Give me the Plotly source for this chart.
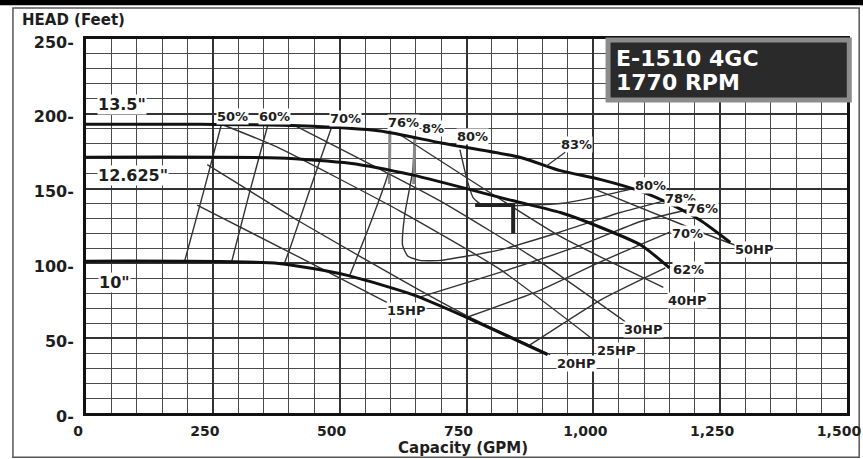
import plotly.graph_objects as go

# ---------------- data (GPM, feet) ----------------
# impeller curves
q_135 = [0, 225, 420, 580, 700, 855, 935, 1015, 1095, 1150, 1210, 1270]
h_135 = [193, 193, 192, 188.5, 180.5, 171, 162, 156, 148, 140, 129, 114]
q_12625 = [0, 380, 520, 645, 840, 935, 1015, 1095, 1150]
h_12625 = [171, 170.5, 167, 159, 142, 134, 124, 112, 97]
q_10 = [0, 380, 515, 645, 750, 910]
h_10 = [101.5, 100, 92, 79, 64, 39]

# efficiency lines
q_e50 = [267, 231, 194]
h_e50 = [193, 147, 101]
q_e60 = [358, 322, 287]
h_e60 = [192, 147, 101]
q_e70_l = [484, 441, 401, 391]
h_e70_l = [191, 149, 109, 100]
q_e70_r = [751, 895, 1014, 1152]
h_e70_r = [64, 82, 101, 121]
q_e76_l = [599, 597, 563, 520]
h_e76_l = [189, 162, 129, 92]
q_e76_r = [658, 816, 974, 1093, 1188]
h_e76_r = [77.5, 94, 112, 128, 136]
q_e78 = [648, 644, 628, 624, 634, 658, 698, 816, 935, 1053, 1142]
h_e78 = [184, 162, 132, 112, 105, 102, 102, 109, 121, 134, 142]
q_e80 = [737, 751, 763, 781, 935, 1014, 1079]
h_e80 = [176, 156, 144, 139, 140, 145, 150]
q_e62 = [875, 1014, 1142]
h_e62 = [45.5, 75.5, 97]
# grey upper parts of the 76% and 78% lines
q_g76 = [599, 598]
h_g76 = [189, 153]
q_g78 = [648, 646]
h_g78 = [184, 153]

# horsepower lines
q_hp15 = [219, 421, 593]
h_hp15 = [139, 104, 74]
q_hp20 = [239, 421, 658, 757, 915]
h_hp20 = [166, 128, 82, 64, 39]
q_hp25 = [267, 375, 619, 816, 1000]
h_hp25 = [193, 178, 135, 96, 49]
q_hp30 = [407, 697, 895, 1063]
h_hp30 = [193, 142, 101, 61]
q_hp40 = [619, 935, 1138]
h_hp40 = [186, 118, 84]
q_hp50 = [1000, 1211, 1281]
h_hp50 = [150, 121, 112]

# duty point marker
q_pt = [767, 842, 842]
h_pt = [139, 139, 120]

# curve labels: text, GPM, feet
lbl_text = ['13.5"', '12.625"', '10"', '50%', '60%', '70%', '76%', '8%', '80%',
            '80%', '78%', '76%', '70%', '62%',
            '15HP', '20HP', '25HP', '30HP', '40HP', '50HP']
lbl_q = [71, 93, 57, 289, 371, 512, 626, 684, 761,
         1112, 1172, 1215, 1186, 1188,
         632, 966, 1045, 1099, 1186, 1318]
lbl_h = [206, 159, 87, 198, 198, 197, 194, 190.5, 184.5,
         152.4, 143.7, 137, 120.3, 95.6,
         68.2, 33.4, 42.1, 55.5, 75.5, 109]
lbl_size = [16, 16, 16] + [13] * 17

x_ticks = [0, 250, 500, 750, 1000, 1250, 1500]
x_ticktext = ["0", "250", "500", "750", "1,000", "1,250", "1,500"]
y_ticks = [0, 50, 100, 150, 200, 250]
y_ticktext = ["0-", "50-", "100-", "150-", "200-", "250-"]

FONT = "DejaVu Sans"
INK = "#1e1e1e"

fig = go.Figure()


def add_line(q, h, width, color=INK, smooth=0.0):
    fig.add_trace(go.Scatter(
        x=q, y=h, mode="lines",
        line=dict(color=color, width=width,
                  shape="spline" if smooth else "linear",
                  smoothing=smooth if smooth else None),
        hoverinfo="skip", showlegend=False))


for q, h in [(q_e50, h_e50), (q_e60, h_e60), (q_e70_l, h_e70_l), (q_e70_r, h_e70_r),
             (q_e76_l, h_e76_l), (q_e76_r, h_e76_r), (q_e78, h_e78), (q_e80, h_e80),
             (q_e62, h_e62)]:
    add_line(q, h, 1.4, "#333333", 0.5)

for q, h in [(q_g76, h_g76), (q_g78, h_g78)]:
    add_line(q, h, 3, "#8a8a8a")

for q, h in [(q_hp15, h_hp15), (q_hp20, h_hp20), (q_hp25, h_hp25), (q_hp30, h_hp30),
             (q_hp40, h_hp40), (q_hp50, h_hp50)]:
    add_line(q, h, 1.4, "#333333", 0.5)

for q, h in [(q_135, h_135), (q_12625, h_12625), (q_10, h_10)]:
    add_line(q, h, 3, "#111111", 0.6)

add_line(q_pt, h_pt, 4, "#222222")

for t, q, h, s in zip(lbl_text, lbl_q, lbl_h, lbl_size):
    fig.add_annotation(x=q, y=h, text=t, showarrow=False,
                       xanchor="center", yanchor="middle",
                       font=dict(family=FONT, size=s, color=INK, weight="bold"),
                       bgcolor="white", borderpad=0)

# 83% with leader line to the 13.5" curve
fig.add_annotation(x=907, y=165, text="83%", showarrow=True, arrowhead=0,
                   arrowwidth=1.2, arrowcolor="#333333", ax=30, ay=-22,
                   font=dict(family=FONT, size=13, color=INK, weight="bold"),
                   bgcolor="white", borderpad=0)

# title box
fig.add_shape(type="rect", xref="paper", yref="paper",
              x0=0.686, x1=1.003, y0=0.837, y1=0.997,
              fillcolor="#2a2a2a", line=dict(color="#8c8c8c", width=5), layer="above")
fig.add_annotation(xref="paper", yref="paper", x=0.694, y=0.947,
                   xanchor="left", yanchor="middle",
                   text="E-1510 4GC", showarrow=False,
                   font=dict(family=FONT, size=22, color="white", weight="bold"))
fig.add_annotation(xref="paper", yref="paper", x=0.694, y=0.885,
                   xanchor="left", yanchor="middle",
                   text="1770 RPM", showarrow=False,
                   font=dict(family=FONT, size=22, color="white", weight="bold"))

# y axis heading and x axis title
fig.add_annotation(xref="paper", yref="paper", x=-0.087, y=1.05,
                   xanchor="left", yanchor="middle",
                   text="HEAD (Feet)", showarrow=False,
                   font=dict(family=FONT, size=15, color=INK, weight="bold"))
fig.add_annotation(xref="paper", yref="paper", x=0.495, y=-0.094,
                   xanchor="center", yanchor="middle",
                   text="Capacity (GPM)", showarrow=False,
                   font=dict(family=FONT, size=15, color=INK, weight="bold"))

# outer frame and top band
fig.add_shape(type="rect", xref="paper", yref="paper",
              x0=-0.096, x1=1.016, y0=-0.118, y1=1.083,
              line=dict(color="#555555", width=1.5), layer="below")
fig.add_shape(type="rect", xref="paper", yref="paper",
              x0=-0.12, x1=1.03, y0=1.09, y1=1.11,
              fillcolor="black", line=dict(width=0), layer="below")

fig.update_layout(
    template="none",
    width=863, height=459,
    margin=dict(l=86, r=16, t=39, b=46, autoexpand=False),
    paper_bgcolor="white", plot_bgcolor="white",
    xaxis=dict(range=[0, 1500], tickvals=x_ticks, ticktext=x_ticktext,
               automargin=False,
               showgrid=True, gridcolor="#333333", gridwidth=1.6,
               minor=dict(dtick=50, showgrid=True, gridcolor="#4a4a4a", gridwidth=1),
               showline=True, mirror=True, linewidth=3, linecolor="#111111",
               ticks="", zeroline=False, ticklabelstandoff=3, ticklabelshift=-8,
               tickfont=dict(family=FONT, size=14, color=INK, weight="bold")),
    yaxis=dict(range=[0, 250], tickvals=y_ticks, ticktext=y_ticktext,
               automargin=False,
               showgrid=True, gridcolor="#333333", gridwidth=1.6,
               minor=dict(dtick=10, showgrid=True, gridcolor="#4a4a4a", gridwidth=1),
               showline=True, mirror=True, linewidth=3, linecolor="#111111",
               ticks="", zeroline=False, ticklabelstandoff=6, ticklabelshift=3,
               tickfont=dict(family=FONT, size=16, color=INK, weight="bold")),
)

fig.write_html("out.html",
               config={"displayModeBar": False},
               post_script="document.body.style.margin='0px';"
                           "document.body.style.padding='0px';")
